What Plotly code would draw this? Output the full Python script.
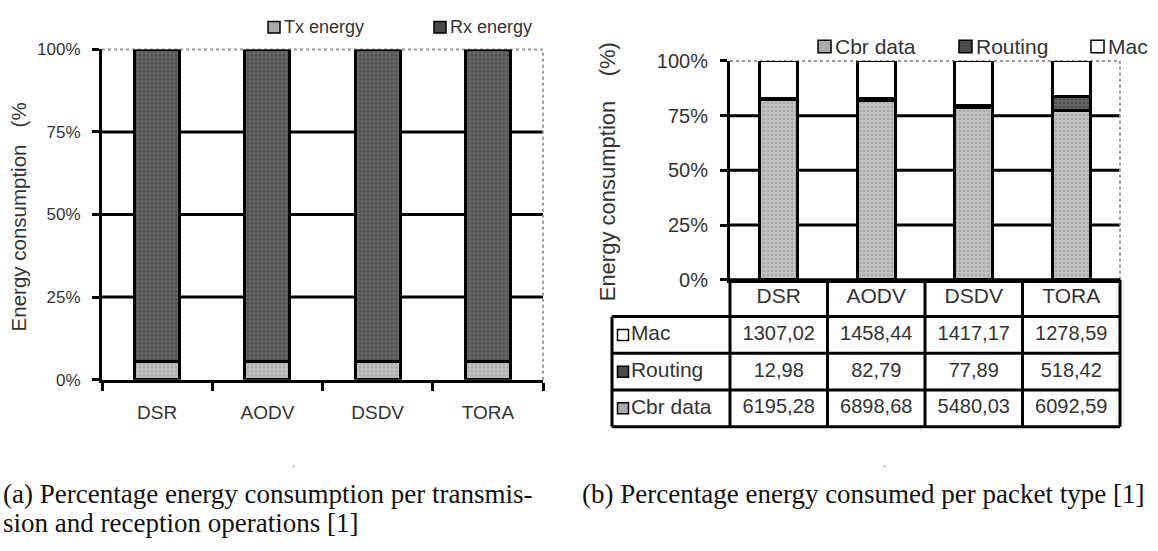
import plotly.graph_objects as go

W, H = 1158, 551

protocols = ["DSR", "AODV", "DSDV", "TORA"]

# (a) share of energy spent on transmission vs reception (%)
tx_energy = [5.5, 5.5, 5.5, 5.5]
rx_energy = [94.5, 94.5, 94.5, 94.5]

# (b) energy consumed per packet type
mac_energy = [1307.02, 1458.44, 1417.17, 1278.59]
routing_energy = [12.98, 82.79, 77.89, 518.42]
cbr_energy = [6195.28, 6898.68, 5480.03, 6092.59]

pct_ticks = [0, 25, 50, 75, 100]
pct_labels = ["0%", "25%", "50%", "75%", "100%"]
grid_levels = [25, 50, 75]

table_rows = [("Mac", mac_energy), ("Routing", routing_energy), ("Cbr data", cbr_energy)]

LIGHT, LIGHT_DOT = "#c2c2c2", "#8c8c8c"
DARK, DARK_DOT = "#666666", "#2c2c2c"
TXT = "#333333"
SANS = "Liberation Sans, Arial, sans-serif"
SERIF = "Liberation Serif, Times New Roman, serif"


def px(x):
    return x / W


def py(y):
    return 1 - y / H


def stipple(bg, fg):
    return dict(color=bg, line=dict(color="black", width=3),
                pattern=dict(shape=".", fgcolor=fg, size=4, solidity=0.35))


def fmt(v):
    return f"{v:.2f}".replace(".", ",")


fig = go.Figure()

# ---- (a) transmission / reception ----
fig.add_trace(go.Bar(x=protocols, y=tx_energy, name="Tx energy", width=0.41,
                     marker=stipple(LIGHT, LIGHT_DOT), xaxis="x", yaxis="y"))
fig.add_trace(go.Bar(x=protocols, y=rx_energy, name="Rx energy", width=0.41,
                     marker=stipple(DARK, DARK_DOT), xaxis="x", yaxis="y"))

# ---- (b) per packet type ----
fig.add_trace(go.Bar(x=protocols, y=cbr_energy, name="Cbr data", width=0.39,
                     marker=stipple(LIGHT, LIGHT_DOT), xaxis="x2", yaxis="y2"))
fig.add_trace(go.Bar(x=protocols, y=routing_energy, name="Routing", width=0.39,
                     marker=stipple(DARK, DARK_DOT), xaxis="x2", yaxis="y2"))
fig.add_trace(go.Bar(x=protocols, y=mac_energy, name="Mac", width=0.39,
                     marker=dict(color="white", line=dict(color="black", width=3)),
                     xaxis="x2", yaxis="y2"))

# ---- data table under (b): columns share the category spacing of x2 ----
col_px = (1120 - 730) / len(protocols)
label_units = (730 - 612) / col_px
row_px = (433 - 280) / (len(table_rows) + 1)
pad = 4
x_left = -0.5 - label_units
n_rows = len(table_rows) + 1

gx, gy = [], []
# horizontal rules
gx += [-0.5, len(protocols) - 0.5, None]
gy += [0, 0, None]
for r in range(1, n_rows + 1):
    gx += [x_left, len(protocols) - 0.5, None]
    gy += [r, r, None]
# vertical rules
gx += [x_left, x_left, None]
gy += [1, n_rows, None]
for c in range(len(protocols) + 1):
    gx += [c - 0.5, c - 0.5, None]
    gy += [0, n_rows, None]
fig.add_trace(go.Scatter(x=gx, y=gy, mode="lines", line=dict(color="black", width=3),
                         hoverinfo="skip", xaxis="x3", yaxis="y3", showlegend=False))

# header cells
fig.add_trace(go.Scatter(x=list(range(len(protocols))), y=[0.5] * len(protocols),
                         mode="text", text=protocols,
                         textfont=dict(family=SANS, size=21, color=TXT),
                         xaxis="x3", yaxis="y3", showlegend=False, cliponaxis=False))
# value cells
for r, (label, vals) in enumerate(table_rows, start=1):
    fig.add_trace(go.Scatter(x=list(range(len(vals))), y=[r + 0.5] * len(vals),
                             mode="text", text=[fmt(v) for v in vals],
                             textfont=dict(family=SANS, size=20, color=TXT),
                             xaxis="x3", yaxis="y3", showlegend=False, cliponaxis=False))

# row headers with key swatches
key_fill = {"Mac": "white", "Routing": "#4a4a4a", "Cbr data": "#a8a8a8"}
key_x = -0.5 - (730 - 623) / col_px
fig.add_trace(go.Scatter(
    x=[key_x] * len(table_rows),
    y=[r + 0.5 for r in range(1, n_rows)],
    mode="markers+text",
    text=[lab for lab, _ in table_rows],
    textposition="middle right",
    textfont=dict(family=SANS, size=21, color=TXT),
    marker=dict(symbol="square", size=11, color=[key_fill[lab] for lab, _ in table_rows],
                line=dict(color="black", width=1.5)),
    xaxis="x3", yaxis="y3", showlegend=False, cliponaxis=False))

axis_common = dict(showline=True, linecolor="black", linewidth=3, mirror=False,
                   zeroline=False, showgrid=False)

fig.update_layout(
    width=W, height=H,
    margin=dict(l=0, r=0, t=0, b=0),
    paper_bgcolor="white", plot_bgcolor="rgba(0,0,0,0)",
    barmode="stack", barnorm="percent",
    showlegend=False,
    font=dict(family=SANS, color=TXT),
    xaxis=dict(domain=[px(102), px(543)], anchor="y", type="category",
               ticks="outside", tickson="boundaries", ticklen=8, tickwidth=3,
               tickcolor="black", ticklabelstandoff=14,
               tickfont=dict(size=19, color=TXT), **axis_common),
    yaxis=dict(domain=[py(384), py(40)], anchor="x", range=[0, 100],
               tickvals=pct_ticks, ticktext=pct_labels,
               ticks="outside", ticklen=7, tickwidth=3, tickcolor="black",
               ticklabelstandoff=8, tickfont=dict(size=17, color=TXT), **axis_common),
    xaxis2=dict(domain=[px(730), px(1120)], anchor="y2", type="category",
                range=[-0.5, 3.5], showticklabels=False, ticks="", **axis_common),
    yaxis2=dict(domain=[py(280), py(52)], anchor="x2", range=[0, 100],
                tickvals=pct_ticks, ticktext=pct_labels,
                ticks="outside", ticklen=7, tickwidth=3, tickcolor="black",
                ticklabelstandoff=8, tickfont=dict(size=20, color=TXT), **axis_common),
    xaxis3=dict(domain=[px(612 - pad), px(1120 + pad)], anchor="y3",
                range=[x_left - pad / col_px, len(protocols) - 0.5 + pad / col_px],
                visible=False),
    yaxis3=dict(domain=[py(433 + pad), py(280 - pad)], anchor="x3",
                range=[n_rows + pad / row_px, -pad / row_px], visible=False),
)

shapes = []
# horizontal rules at 25/50/75 % behind the bars
for ax in ("", "2"):
    xd = f"x{ax} domain"
    for g in grid_levels:
        shapes.append(dict(type="line", xref=xd, yref=f"y{ax}", x0=0, x1=1, y0=g, y1=g,
                           line=dict(color="black", width=3), layer="below"))
    # dotted frame on top and right
    shapes.append(dict(type="line", xref=xd, yref=f"y{ax} domain", x0=0, x1=1, y0=1, y1=1,
                       line=dict(color="#9a9a9a", width=2, dash="dot"), layer="below"))
    shapes.append(dict(type="line", xref=xd, yref=f"y{ax} domain", x0=1, x1=1, y0=0, y1=1,
                       line=dict(color="#9a9a9a", width=2, dash="dot"), layer="below"))

annotations = []


def key(x0, size, yc, fill, label, fsize):
    shapes.append(dict(type="rect", xref="paper", yref="paper",
                       x0=px(x0), x1=px(x0 + size), y0=py(yc + size / 2), y1=py(yc - size / 2),
                       fillcolor=fill, line=dict(color="black", width=1.5)))
    annotations.append(dict(xref="paper", yref="paper", x=px(x0 + size + 2), y=py(yc),
                            xanchor="left", yanchor="middle", showarrow=False, text=label,
                            font=dict(family=SANS, size=fsize, color=TXT)))


key(268, 12, 17, "#aaaaaa", "Tx energy", 18)
key(434, 12, 17, "#4a4a4a", "Rx energy", 18)
key(818, 13, 37, "#aaaaaa", "Cbr data", 21)
key(959, 13, 37, "#4a4a4a", "Routing", 21)
key(1091, 13, 37, "white", "Mac", 21)

# axis titles
annotations.append(dict(xref="paper", yref="paper", x=px(18), y=py(215), textangle=-90,
                        xanchor="center", yanchor="middle", showarrow=False,
                        text="Energy consumption\u00a0\u00a0\u00a0(%",
                        font=dict(family=SANS, size=20.5, color=TXT)))
annotations.append(dict(xref="paper", yref="paper", x=px(607), y=py(168), textangle=-90,
                        xanchor="center", yanchor="middle", showarrow=False,
                        text="Energy consumption\u00a0\u00a0\u00a0\u00a0(%)",
                        font=dict(family=SANS, size=22, color=TXT)))

# sub-figure captions
cap_font = dict(family=SERIF, size=27, color="#111111")
annotations.append(dict(xref="paper", yref="paper", x=px(1), y=py(503), xanchor="left",
                        yanchor="middle", showarrow=False,
                        text="(a) Percentage energy consumption per transmis-", font=cap_font))
annotations.append(dict(xref="paper", yref="paper", x=px(1), y=py(533), xanchor="left",
                        yanchor="middle", showarrow=False,
                        text="sion and reception operations [1]", font=cap_font))
annotations.append(dict(xref="paper", yref="paper", x=px(580), y=py(503), xanchor="left",
                        yanchor="middle", showarrow=False,
                        text="(b) Percentage energy consumed per packet type [1]", font=cap_font))
for dx in (290, 888):
    annotations.append(dict(xref="paper", yref="paper", x=px(dx), y=py(480), showarrow=False,
                            text=".", font=dict(family=SERIF, size=12, color="#666666")))

fig.update_layout(shapes=shapes, annotations=annotations)

fig.write_html("out.html")
